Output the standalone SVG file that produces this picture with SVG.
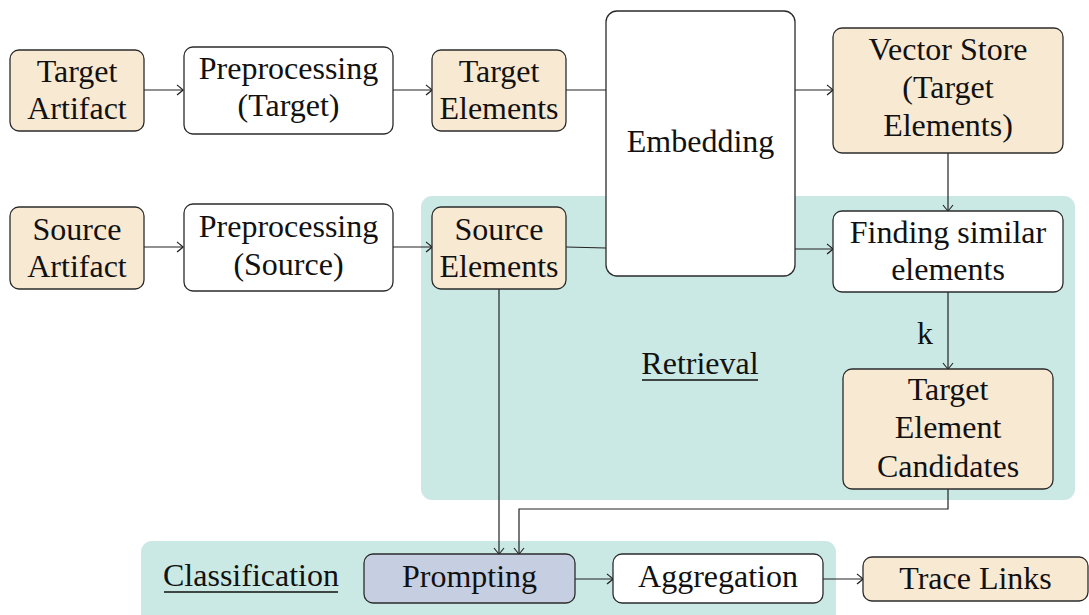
<svg xmlns="http://www.w3.org/2000/svg" width="1089" height="615" viewBox="0 0 1089 615">
<style>
  .box { stroke: #2b2b2b; stroke-width: 1.3; }
  .art { fill: #F8E9D3; }
  .proc { fill: #FFFFFF; }
  .prompt { fill: #C6CEE2; }
  .panel { fill: #CAE9E4; stroke: none; }
  text { font-family: "Liberation Serif", "Times New Roman", serif; font-size: 32px; fill: #111; text-anchor: middle; }
  .conn { fill: none; stroke: #222; stroke-width: 1.2; }
  .ul { stroke: #111; stroke-width: 1.5; }
</style>
<defs>
  <marker id="arr" viewBox="-8 -6 10 12" markerWidth="10" markerHeight="12" refX="0" refY="0" orient="auto" markerUnits="userSpaceOnUse">
    <path d="M-6,-5 Q-1.5,-1.5 0,0 Q-1.5,1.5 -6,5" fill="none" stroke="#222" stroke-width="1.1"/>
  </marker>
</defs>

<g id="panel-retrieval">
  <rect class="panel" x="421" y="196" width="654" height="304" rx="11"/>
  <text x="700" y="374">Retrieval</text>
  <line class="ul" x1="642" y1="380" x2="758" y2="380"/>
</g>
<g id="panel-classification">
  <rect class="panel" x="141" y="541" width="695" height="84" rx="11"/>
  <text x="251" y="586">Classification</text>
  <line class="ul" x1="164" y1="592" x2="338" y2="592"/>
</g>

<g id="connectors">
  <line class="conn" x1="144" y1="90" x2="183" y2="90" marker-end="url(#arr)"/>
  <line class="conn" x1="393" y1="90" x2="432" y2="90" marker-end="url(#arr)"/>
  <line class="conn" x1="566" y1="90" x2="606" y2="90"/>
  <line class="conn" x1="795" y1="90" x2="833" y2="90" marker-end="url(#arr)"/>
  <line class="conn" x1="144" y1="247" x2="183" y2="247" marker-end="url(#arr)"/>
  <line class="conn" x1="393" y1="247" x2="432" y2="247" marker-end="url(#arr)"/>
  <line class="conn" x1="566" y1="247" x2="606" y2="248"/>
  <line class="conn" x1="795" y1="249" x2="833" y2="249" marker-end="url(#arr)"/>
  <line class="conn" x1="948" y1="153" x2="948" y2="211" marker-end="url(#arr)"/>
  <line class="conn" x1="948" y1="292" x2="948" y2="369" marker-end="url(#arr)"/>
  <text x="925" y="344">k</text>
  <line class="conn" x1="499" y1="289" x2="499" y2="554" marker-end="url(#arr)"/>
  <polyline class="conn" points="948,489 948,509 519,509 519,554" marker-end="url(#arr)"/>
  <line class="conn" x1="575" y1="579" x2="613" y2="579" marker-end="url(#arr)"/>
  <line class="conn" x1="823" y1="579" x2="863" y2="579" marker-end="url(#arr)"/>
</g>

<g id="target-artifact">
  <rect class="box art" x="10" y="50" width="134" height="81" rx="9"/>
  <text x="77" y="82">Target</text>
  <text x="77" y="119">Artifact</text>
</g>
<g id="preprocessing-target">
  <rect class="box proc" x="184" y="47" width="209" height="87" rx="9"/>
  <text x="288.5" y="79">Preprocessing</text>
  <text x="288.5" y="116">(Target)</text>
</g>
<g id="target-elements">
  <rect class="box art" x="432" y="50" width="134" height="81" rx="9"/>
  <text x="499" y="82">Target</text>
  <text x="499" y="119">Elements</text>
</g>
<g id="embedding">
  <rect class="box proc" x="606" y="11" width="189" height="265" rx="11"/>
  <text x="700.5" y="152">Embedding</text>
</g>
<g id="vector-store">
  <rect class="box art" x="833" y="28" width="230" height="125" rx="9"/>
  <text x="948" y="60">Vector Store</text>
  <text x="948" y="98">(Target</text>
  <text x="948" y="136">Elements)</text>
</g>
<g id="source-artifact">
  <rect class="box art" x="10" y="207" width="134" height="82" rx="9"/>
  <text x="77" y="240">Source</text>
  <text x="77" y="277">Artifact</text>
</g>
<g id="preprocessing-source">
  <rect class="box proc" x="184" y="204" width="209" height="87" rx="9"/>
  <text x="288.5" y="237">Preprocessing</text>
  <text x="288.5" y="275">(Source)</text>
</g>
<g id="source-elements">
  <rect class="box art" x="432" y="207" width="134" height="82" rx="9"/>
  <text x="499" y="240">Source</text>
  <text x="499" y="277">Elements</text>
</g>
<g id="finding-similar">
  <rect class="box proc" x="833" y="211" width="230" height="81" rx="9"/>
  <text x="948" y="243">Finding similar</text>
  <text x="948" y="280">elements</text>
</g>
<g id="target-element-candidates">
  <rect class="box art" x="843" y="369" width="210" height="120" rx="9"/>
  <text x="948" y="400">Target</text>
  <text x="948" y="438">Element</text>
  <text x="948" y="477">Candidates</text>
</g>
<g id="prompting">
  <rect class="box prompt" x="364" y="554" width="211" height="49" rx="9"/>
  <text x="469.5" y="587">Prompting</text>
</g>
<g id="aggregation">
  <rect class="box proc" x="613" y="554" width="210" height="49" rx="9"/>
  <text x="718" y="587">Aggregation</text>
</g>
<g id="trace-links">
  <rect class="box art" x="863" y="557" width="225" height="44" rx="9"/>
  <text x="975.5" y="589">Trace Links</text>
</g>
</svg>
